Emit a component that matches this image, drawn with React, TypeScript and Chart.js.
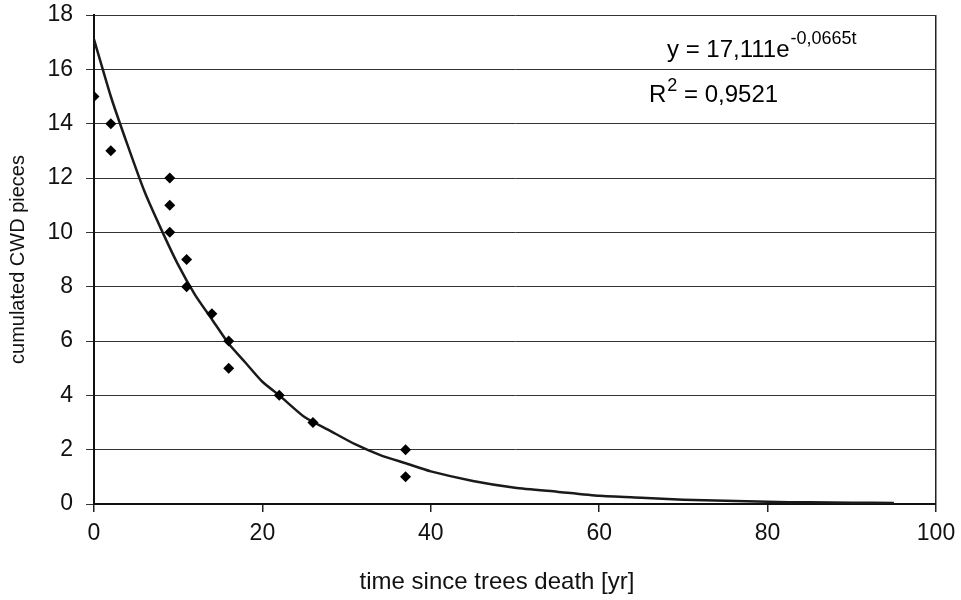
import React, { useEffect, useRef } from "react";
import { Chart, registerables } from "chart.js";

Chart.register(...registerables);

// Observed data (time since trees death [yr], cumulated CWD pieces)
const obsT = [0, 2, 2, 9, 9, 9, 11, 11, 14, 16, 16, 22, 26, 37, 37];
const obsY = [15, 14, 13, 12, 11, 10, 9, 8, 7, 6, 5, 4, 3, 2, 1];

// Trend line
const trendT = [0, 2, 4, 6, 8, 10, 12, 14, 16, 18, 20, 22, 25, 28, 31, 34, 37, 40, 45, 50, 55, 60, 65, 70, 75, 80, 85, 90, 95];
const trendY = [17.1, 15.0, 13.2, 11.5, 10.1, 8.8, 7.7, 6.8, 5.9, 5.2, 4.5, 4.0, 3.2, 2.7, 2.2, 1.8, 1.5, 1.2, 0.85, 0.6, 0.45, 0.3, 0.23, 0.16, 0.12, 0.08, 0.06, 0.05, 0.04];

const xTicks = [0, 20, 40, 60, 80, 100];
const yTicks = [0, 2, 4, 6, 8, 10, 12, 14, 16, 18];

const xTitle = "time since trees death [yr]";
const yTitle = "cumulated CWD pieces";
const eqMain = "y = 17,111e";
const eqSup = "-0,0665t";
const r2Main = "R";
const r2Sup = "2";
const r2Rest = " = 0,9521";

const FONT = "Arial, 'Liberation Sans', sans-serif";

const annotationPlugin = {
  id: "eqAnnotation",
  afterDraw(chart: any) {
    const ctx = chart.ctx;
    ctx.save();
    ctx.fillStyle = "#000";
    ctx.textBaseline = "alphabetic";
    ctx.textAlign = "left";
    ctx.font = `24px ${FONT}`;
    let x = 667;
    ctx.fillText(eqMain, x, 57);
    x += ctx.measureText(eqMain).width + 1;
    ctx.font = `18px ${FONT}`;
    ctx.fillText(eqSup, x, 44);

    let x2 = 649;
    ctx.font = `24px ${FONT}`;
    ctx.fillText(r2Main, x2, 102);
    x2 += ctx.measureText(r2Main).width + 1;
    ctx.font = `18px ${FONT}`;
    ctx.fillText(r2Sup, x2, 91);
    x2 += ctx.measureText(r2Sup).width;
    ctx.font = `24px ${FONT}`;
    ctx.fillText(r2Rest, x2, 102);

    // x axis title
    ctx.font = `24px ${FONT}`;
    ctx.fillStyle = "#111";
    ctx.textAlign = "center";
    ctx.fillText(xTitle, 497, 589);
    ctx.restore();
  },
};

export default function App() {
  const ref = useRef<HTMLCanvasElement | null>(null);

  useEffect(() => {
    if (!ref.current) return;
    const chart = new Chart(ref.current, {
      type: "scatter",
      data: {
        datasets: [
          {
            label: "trend",
            data: trendT.map((t, i) => ({ x: t, y: trendY[i] })),
            showLine: true,
            borderColor: "#1a1a1a",
            borderWidth: 2.5,
            pointRadius: 0,
            tension: 0.2,
            order: 2,
          },
          {
            label: "observed",
            data: obsT.map((t, i) => ({ x: t, y: obsY[i] })),
            pointStyle: "rectRot",
            pointRadius: 5.5,
            pointBorderWidth: 0,
            backgroundColor: "#000",
            borderColor: "#000",
            order: 1,
          },
        ],
      },
      options: {
        animation: false,
        responsive: true,
        maintainAspectRatio: false,
        layout: { padding: { top: 15, right: 25, left: 0, bottom: 0 } },
        plugins: {
          legend: { display: false },
          tooltip: { enabled: false },
        },
        scales: {
          x: {
            type: "linear",
            min: 0,
            max: 100,
            afterBuildTicks: (s: any) => {
              s.ticks = xTicks.map((v) => ({ value: v }));
            },
            afterFit: (s: any) => {
              s.height = 96;
              s.paddingLeft = 0;
              s.paddingRight = 0;
            },
            ticks: {
              color: "#111",
              font: { family: FONT, size: 23 },
              padding: 8,
              maxRotation: 0,
            },
            grid: {
              drawOnChartArea: true,
              color: (c: any) => (c.tick && c.tick.value === 100 ? "#222" : "rgba(0,0,0,0)"),
              tickColor: "#222",
              tickLength: 8,
              lineWidth: 1.5,
            },
            border: { display: true, color: "#111", width: 2 },
            title: { display: false },
          },
          y: {
            type: "linear",
            min: 0,
            max: 18,
            afterBuildTicks: (s: any) => {
              s.ticks = yTicks.map((v) => ({ value: v }));
            },
            afterFit: (s: any) => {
              s.width = 94;
              s.paddingTop = 0;
              s.paddingBottom = 0;
            },
            ticks: {
              color: "#111",
              font: { family: FONT, size: 23 },
              padding: 13,
            },
            grid: {
              color: "#333",
              tickColor: "#333",
              tickLength: 8,
              lineWidth: 1,
            },
            border: { display: true, color: "#111", width: 2 },
            title: {
              display: true,
              text: yTitle,
              color: "#111",
              font: { family: FONT, size: 20 },
              padding: { top: 6, bottom: 0 },
            },
          },
        },
      },
      plugins: [annotationPlugin],
    });
    return () => chart.destroy();
  }, []);

  return (
    <div style={{ position: "absolute", left: 0, top: 0, width: 961, height: 600, background: "#fff" }}>
      <canvas ref={ref} />
    </div>
  );
}
